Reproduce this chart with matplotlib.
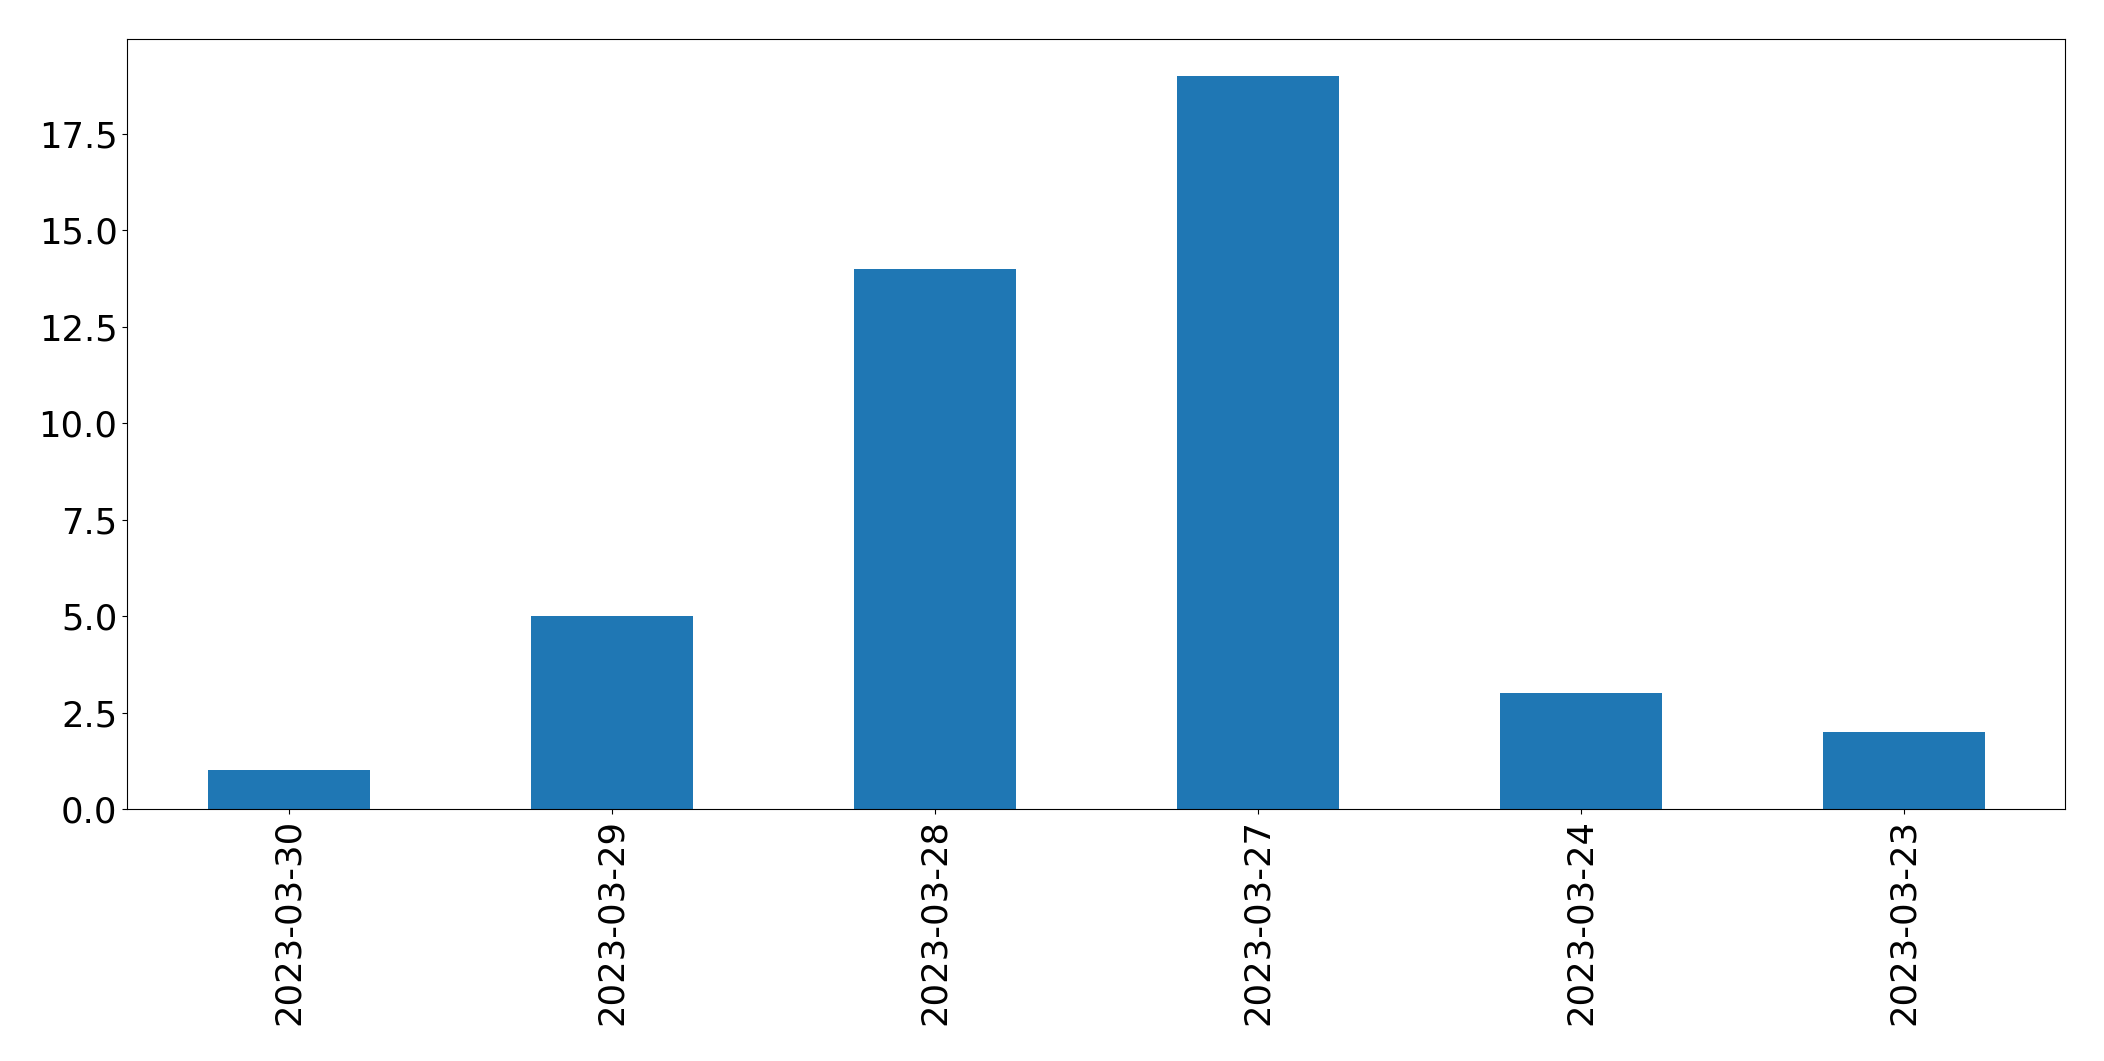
import matplotlib
matplotlib.use('Agg')
import matplotlib.pyplot as plt
import pandas as pd

dates = ['2023-03-30', '2023-03-29', '2023-03-28', '2023-03-27', '2023-03-24', '2023-03-23']
counts = [1, 5, 14, 19, 3, 2]

s = pd.Series(counts, index=dates)

fig = plt.figure(figsize=(21.04, 10.61), dpi=100)
ax = fig.add_subplot(111)
fig.subplots_adjust(left=0.0605, right=0.9816, top=0.963, bottom=0.2375)

s.plot(kind='bar', ax=ax, color='#1f77b4', fontsize=25.5)

fig.savefig('out.png', dpi=100)
plt.close(fig)
